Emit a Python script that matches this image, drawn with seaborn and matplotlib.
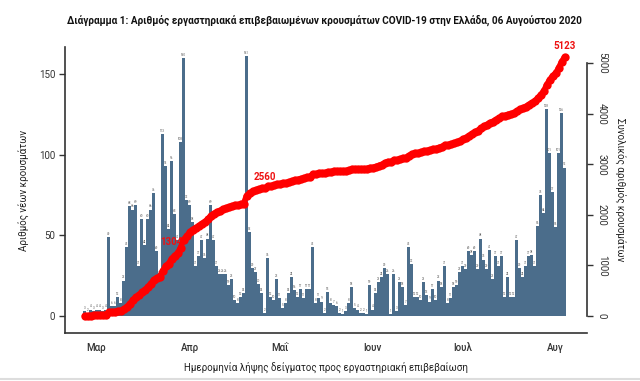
import numpy as np
import pandas as pd
import matplotlib
matplotlib.use("Agg")
import matplotlib.pyplot as plt
from matplotlib.lines import Line2D
import seaborn as sns

# ---------------- data ----------------
start_date = "2020-02-26"
daily_cases = [
    3, 2, 4, 3, 4, 4, 3, 4,
    49, 6, 6, 12, 8, 22, 43,
    68, 66, 69, 31, 60, 44, 60, 66, 76, 40,
    25, 113, 93, 54, 96, 63, 47, 108, 160, 72,
    69, 58, 31, 37, 47, 36, 48, 69, 47, 31,
    26, 26, 26, 19, 23, 10, 8, 12, 14, 161,
    52, 30, 27, 20, 14, 2, 36, 12, 10, 23,
    11, 5, 8, 14, 24, 16, 12, 17, 11, 17, 17, 43, 8,
    11, 9, 2, 15, 8, 7, 6, 2, 1, 3,
    8, 18, 5, 4, 2, 2, 1, 19, 4, 14,
    21, 24, 30, 26, 1, 26, 3, 21, 18, 7,
    43, 32, 12, 12, 10, 21, 13, 9, 17, 10,
    22, 18, 31, 8, 11, 18, 19, 27, 31, 29,
    40, 38, 40, 29, 48, 35, 29, 41, 23, 37,
    31, 37, 12, 24, 12, 12, 47, 30, 24, 31,
    37, 38, 31, 56, 75, 64, 128, 101, 77, 55,
    101, 126, 92,
]
month_starts = ["2020-03-01", "2020-04-01", "2020-05-01",
                "2020-06-01", "2020-07-01", "2020-08-01"]
month_labels = ["Μαρ", "Απρ", "Μαΐ", "Ιουν", "Ιουλ", "Αυγ"]
left_ticks = [0, 50, 100, 150]
right_ticks = [0, 1000, 2000, 3000, 4000, 5000]
annot_dates = ["2020-03-27", "2020-04-26", "2020-08-04"]
annot_texts = ["1304", "2560", "5123"]

title = ("Διάγραμμα 1: Αριθμός εργαστηριακά επιβεβαιωμένων κρουσμάτων "
         "COVID-19 στην Ελλάδα, 06 Αυγούστου 2020")
xlabel = "Ημερομηνία λήψης δείγματος προς εργαστηριακή επιβεβαίωση"
ylabel_left = "Αριθμός νέων κρουσμάτων"
ylabel_right = "Συνολικός αριθμός κρουσμάτων"

# ---------------- frame ----------------
df = pd.DataFrame({
    "pos": np.arange(len(daily_cases)),
    "cases": daily_cases,
    "total": np.cumsum(daily_cases),
})
d0 = pd.Timestamp(start_date)
month_pos = [(pd.Timestamp(m) - d0).days for m in month_starts]
annot_pos = [(pd.Timestamp(a) - d0).days for a in annot_dates]
annot_offsets = [(-2, 10), (0, 8), (0, 8)]

sns.set_theme(style="white")
plt.rcParams["font.family"] = ["Roboto", "DejaVu Sans"]

bar_color = "#4b6d8b"
axis_color = "#333333"

fig = plt.figure(figsize=(6.4, 3.81), dpi=100)
ax = fig.add_axes([65 / 640, 1 - 333 / 381, (587 - 65) / 640, (333 - 47) / 381])

sns.barplot(data=df, x="pos", y="cases", color=bar_color, saturation=1,
            width=0.92, native_scale=True, linewidth=0, ax=ax, zorder=1)
ax.bar_label(ax.containers[0], fontsize=2.2, padding=0.8, color="#555555")

ax.set_xlim(-6.5, 167.5)
ax.set_ylim(-10.5, 166.7)
ax.set_xticks(month_pos)
ax.set_xticklabels(month_labels)
ax.set_yticks(left_ticks)
ax.set_xlabel(xlabel, fontsize=7, color="#222222")
ax.xaxis.set_label_coords(0.5, -0.098)
ax.set_ylabel(ylabel_left, fontsize=7, color="#222222")
ax.yaxis.set_label_coords(-0.067, 0.5)

for s in ["top", "right"]:
    ax.spines[s].set_visible(False)
for s in ["left", "bottom"]:
    ax.spines[s].set_color(axis_color)
    ax.spines[s].set_linewidth(1.2)
ax.tick_params(axis="x", direction="out", length=5, width=1, colors=axis_color,
               labelsize=7, pad=2)
ax.tick_params(axis="y", direction="out", length=4, width=1, colors=axis_color,
               labelsize=7, pad=3)
for lbl in ax.get_xticklabels():
    lbl.set_fontweight("medium")

# ---------------- cumulative line ----------------
ax2 = ax.twinx()
sns.lineplot(data=df, x="pos", y="total", ax=ax2, color="#ff0000",
             linewidth=4, marker="o", markersize=6, markeredgewidth=0,
             zorder=3)
ax2.set_ylim(-336, 5322)
ax2.set_yticks(right_ticks)
ax2.set_ylabel("")
ax2.set_xlabel("")
for s in ["top", "left", "bottom"]:
    ax2.spines[s].set_visible(False)
ax2.spines["right"].set_bounds(0, 5000)
ax2.spines["right"].set_color(axis_color)
ax2.spines["right"].set_linewidth(1.2)
ax2.tick_params(axis="y", direction="out", length=4, width=1, colors=axis_color,
                labelsize=7, pad=3)
for lbl in ax2.get_yticklabels():
    lbl.set_rotation(-90)
    lbl.set_va("center")
fig.text(620 / 640, 1 - 190 / 381, ylabel_right, rotation=-90, fontsize=7,
         color="#222222", ha="center", va="center")

for p, t, off in zip(annot_pos, annot_texts, annot_offsets):
    ax2.annotate(t, xy=(p, df["total"].iloc[p]), xytext=off,
                 textcoords="offset points", ha="center", va="center",
                 color="#ee1111", fontsize=7, fontweight="bold", zorder=1)

fig.text(324 / 640, 1 - 20 / 381, title, ha="center", va="center",
         fontsize=7.2, fontweight="bold", color="#111111")
fig.add_artist(Line2D([0, 1], [0.006, 0.006], color="#dddddd", linewidth=1.5))

fig.savefig("out.png", dpi=100)
